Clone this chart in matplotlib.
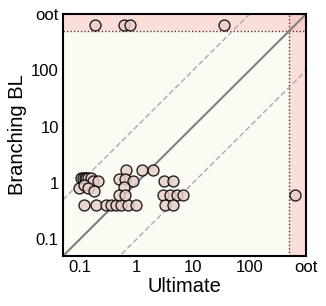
import numpy as np
import matplotlib
matplotlib.use('Agg')
import matplotlib.pyplot as plt

plt.rcParams['font.family'] = ['Liberation Sans', 'DejaVu Sans']

# values, "oot" plotted at OOT
OOT = 630.0
CUTOFF = 500.0
LIM = (0.05, 1000.0)

ultimate = [0.104, 0.112, 0.121, 0.128, 0.14, 0.157, 0.17, 0.206,
            0.097, 0.118, 0.137, 0.18,
            0.119, 0.193, 0.291, 0.358, 0.44, 0.54, 0.708, 0.97,
            0.66, 1.23, 1.93,
            0.5, 0.62, 0.87, 0.59, 0.49, 0.62,
            3.07, 4.4, 2.98, 3.93, 5.18, 6.63, 3.2, 4.5,
            0.185, 0.59, 0.76, 36.0, OOT]
branching = [1.22, 1.2, 1.22, 1.2, 1.22, 1.22, 1.1, 1.1,
             0.8, 0.9, 0.8, 0.72,
             0.4, 0.4, 0.4, 0.4, 0.4, 0.4, 0.4, 0.4,
             1.7, 1.7, 1.7,
             1.15, 1.15, 1.1, 0.85, 0.6, 0.6,
             1.1, 1.1, 0.6, 0.6, 0.6, 0.6, 0.4, 0.4,
             OOT, OOT, OOT, OOT, 0.6]

tick_vals = [0.1, 1, 10, 100, 1000]
tick_text = ['0.1', '1', '10', '100', 'oot']

fig = plt.figure(figsize=(3.26, 3.06), dpi=100)
ax = fig.add_axes([0.193, 0.163, 0.746, 0.791])
ax.set_facecolor('#fbfbf4')
ax.set_xscale('log')
ax.set_yscale('log')
ax.set_xlim(LIM)
ax.set_ylim(LIM)

# out-of-tree zones
ax.axvspan(CUTOFF, LIM[1], color='#f9b4b4', alpha=0.4, lw=0, zorder=0)
ax.axhspan(CUTOFF, LIM[1], color='#f9b4b4', alpha=0.4, lw=0, zorder=0)
ax.axvline(CUTOFF, color='#5a3030', lw=1, ls=(0, (1, 1.5)), zorder=1)
ax.axhline(CUTOFF, color='#5a3030', lw=1, ls=(0, (1, 1.5)), zorder=1)

xx = np.array(LIM)
ax.plot(xx, xx, color='#808080', lw=1.5, zorder=2)
ax.plot(xx, xx * 10, color='#aaaaaa', lw=1, ls=(0, (4, 2)), zorder=2)
ax.plot(xx, xx / 10, color='#aaaaaa', lw=1, ls=(0, (4, 2)), zorder=2)

ax.scatter(ultimate, branching, s=62, facecolor='#e8cfca', edgecolor='black',
           linewidth=1, alpha=0.85, zorder=3, clip_on=False)

ax.set_xticks(tick_vals)
ax.set_xticklabels(tick_text)
ax.set_yticks(tick_vals)
ax.set_yticklabels(tick_text)
ax.minorticks_off()
ax.tick_params(length=0, labelsize=12, pad=3)
for s in ax.spines.values():
    s.set_linewidth(1.5)

ax.set_xlabel('Ultimate', fontsize=14.5, labelpad=1)
ax.set_ylabel('Branching BL', fontsize=14.5, labelpad=3)

fig.savefig('out.png', dpi=100)
